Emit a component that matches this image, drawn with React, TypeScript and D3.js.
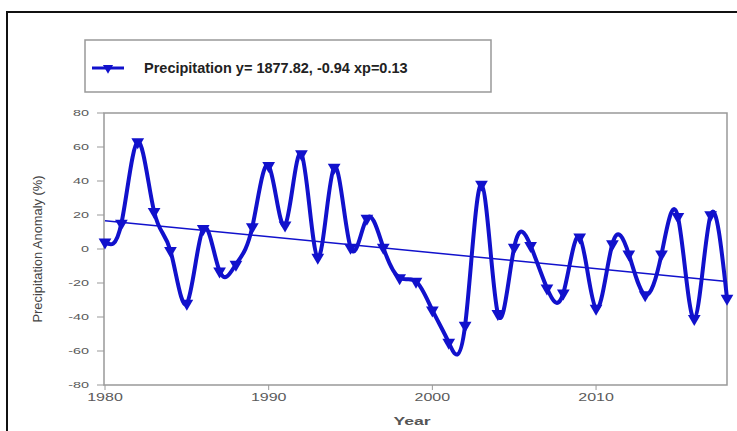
import React from "react";
import * as d3 from "d3";

// Annual precipitation anomaly series
const years = [
  1980, 1981, 1982, 1983, 1984, 1985, 1986, 1987, 1988, 1989,
  1990, 1991, 1992, 1993, 1994, 1995, 1996, 1997, 1998, 1999,
  2000, 2001, 2002, 2003, 2004, 2005, 2006, 2007, 2008, 2009,
  2010, 2011, 2012, 2013, 2014, 2015, 2016, 2017, 2018,
];
const anomaly = [
  4, 15, 63, 22, -1, -32, 12, -13, -9, 13,
  49, 14, 56, -5, 48, 1, 18, 1, -17, -19,
  -36, -55, -45, 38, -38, 1, 2, -23, -26, 7,
  -35, 3, -3, -27, -3, 19, -41, 20, -29,
];

// Linear trend reported in the legend
const trendIntercept = 1877.82;
const trendSlope = -0.94;
const trendP = 0.13;

const yTicks = [-80, -60, -40, -20, 0, 20, 40, 60, 80];
const xTicks = [1980, 1990, 2000, 2010];

const W = 737;
const H = 431;
const BLUE = "#1111cc";
const FONT = "'Liberation Sans', Arial, Helvetica, sans-serif";
// axis labels are drawn horizontally widened
const WIDEN = 1.6;

export default function App() {
  const x = d3.scaleLinear().domain([1980, 2018]).range([105, 727]);
  const y = d3.scaleLinear().domain([-80, 80]).range([385, 113]);

  const pts: [number, number][] = years.map((yr, i) => [x(yr), y(anomaly[i])]);
  const line = d3.line().curve(d3.curveNatural)(pts) || "";

  const trendAt = (yr: number) => trendIntercept + trendSlope * yr;
  const x0 = years[0];
  const x1 = years[years.length - 1];

  const tri = d3.symbol().type(d3.symbolTriangle).size(70)() || "";

  const legendText = `Precipitation y= ${trendIntercept.toFixed(2)}, ${trendSlope.toFixed(2)} xp=${trendP.toFixed(2)}`;

  return (
    <svg
      width={W}
      height={H}
      style={{ position: "absolute", left: 0, top: 0, background: "#fff" }}
      fontFamily={FONT}
    >
      {/* outer frame */}
      <rect x={7} y={12} width={W + 10} height={H + 10} fill="none" stroke="#111" strokeWidth={2} />

      {/* legend */}
      <rect x={85} y={40} width={406} height={52} fill="#fff" stroke="#999" strokeWidth={1.5} />
      <line x1={92} x2={124} y1={68} y2={68} stroke={BLUE} strokeWidth={3} />
      <path d={tri} transform={`translate(108,68) rotate(180) scale(0.8)`} fill={BLUE} />
      <text x={144} y={73} fontSize={14.5} fontWeight="bold" fill="#222">
        {legendText}
      </text>

      {/* plot frame */}
      <rect x={104} y={113} width={623} height={272} fill="none" stroke="#999" strokeWidth={1.5} />

      {/* y axis */}
      {yTicks.map((t) => (
        <g key={t}>
          <line x1={97} x2={104} y1={y(t)} y2={y(t)} stroke="#999" strokeWidth={1} />
          <text
            transform={`translate(89,${y(t) + 3.2}) scale(${WIDEN},1)`}
            fontSize={9}
            textAnchor="end"
            fill="#5a5a5a"
          >
            {t}
          </text>
        </g>
      ))}
      <text
        transform={`translate(42,${(113 + 385) / 2}) rotate(-90)`}
        fontSize={12}
        textAnchor="middle"
        fill="#444"
        textLength={147}
        lengthAdjust="spacingAndGlyphs"
      >
        Precipitation Anomaly (%)
      </text>

      {/* x axis */}
      {xTicks.map((t) => (
        <g key={t}>
          <line x1={x(t)} x2={x(t)} y1={385} y2={390} stroke="#999" strokeWidth={1} />
          <text
            transform={`translate(${x(t)},401) scale(${WIDEN},1)`}
            fontSize={10}
            textAnchor="middle"
            fill="#5a5a5a"
          >
            {t}
          </text>
        </g>
      ))}
      <text
        transform={`translate(412,425) scale(${WIDEN},1)`}
        fontSize={11}
        fontWeight="bold"
        textAnchor="middle"
        fill="#555"
      >
        Year
      </text>

      {/* trend line */}
      <line
        x1={x(x0)}
        x2={x(x1)}
        y1={y(trendAt(x0))}
        y2={y(trendAt(x1))}
        stroke={BLUE}
        strokeWidth={1.5}
      />

      {/* anomaly series */}
      <path d={line} fill="none" stroke={BLUE} strokeWidth={4} strokeLinejoin="round" />
      {pts.map(([px, py], i) => (
        <path key={years[i]} d={tri} transform={`translate(${px},${py}) rotate(180)`} fill={BLUE} />
      ))}
    </svg>
  );
}
